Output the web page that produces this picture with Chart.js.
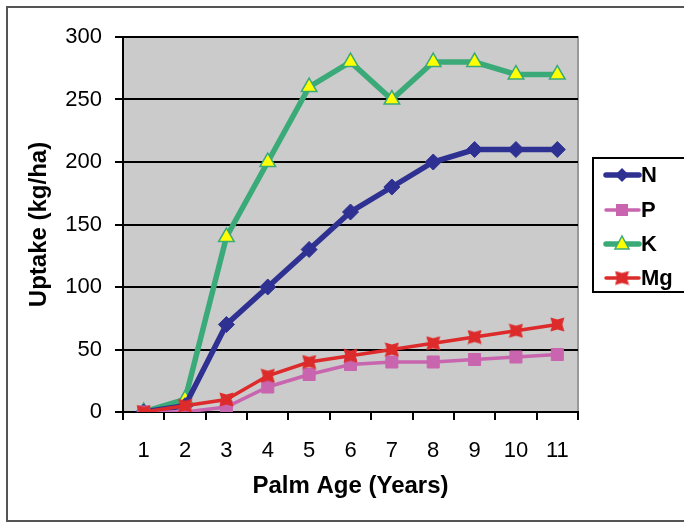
<!DOCTYPE html>
<html>
<head>
<meta charset="utf-8">
<script src="https://cdn.jsdelivr.net/npm/chart.js@4/dist/chart.umd.min.js"></script>
<style>
  html, body { margin: 0; padding: 0; background: #ffffff; }
  #wrap { width: 684px; height: 524px; position: relative; }
</style>
</head>
<body>
<div id="wrap"><canvas id="c" width="684" height="524"></canvas></div>
<script>
// Nutrient uptake by oil palm with age
const ages = ['1', '2', '3', '4', '5', '6', '7', '8', '9', '10', '11'];
const uptakeN  = [0, 5, 70, 100, 130, 160, 180, 200, 210, 210, 210];
const uptakeP  = [0, 0, 4, 20, 30, 38, 40, 40, 42, 44, 46];
const uptakeK  = [0, 10, 140, 200, 260, 280, 250, 280, 280, 270, 270];
const uptakeMg = [0, 5, 10, 29, 40, 45, 50, 55, 60, 65, 70];
const seriesNames = ['N', 'P', 'K', 'Mg'];

const FONT = '"Liberation Sans", Arial, Helvetica, sans-serif';
const colN = '#2E3192', colP = '#C964AE', colK = '#3AAA78', colMg = '#DD2A2A';

// Mg marker: square with pinched sides
function makeMgMarker() {
  const s = 15, c = document.createElement('canvas');
  c.width = s; c.height = s;
  const g = c.getContext('2d');
  g.fillStyle = colMg;
  g.beginPath();
  g.moveTo(0.5, 0.5); g.lineTo(7.5, 2.5); g.lineTo(14.5, 0.5);
  g.lineTo(12.5, 7.5); g.lineTo(14.5, 14.5); g.lineTo(7.5, 12.5);
  g.lineTo(0.5, 14.5); g.lineTo(2.5, 7.5); g.closePath();
  g.fill();
  g.fillRect(3, 3, 9, 9);
  return c;
}
const mgMarker = makeMgMarker();

// Frame, grey plotting area and legend box
const decor = {
  id: 'decor',
  beforeDraw(chart) {
    const {ctx, chartArea: a} = chart;
    ctx.save();
    ctx.fillStyle = '#ffffff';
    ctx.fillRect(0, 0, chart.width, chart.height);
    ctx.strokeStyle = '#555555';
    ctx.lineWidth = 2;
    ctx.strokeRect(7, 7, 720, 514);
    ctx.fillStyle = '#CBCBCB';
    ctx.fillRect(a.left, a.top, a.right - a.left, a.bottom - a.top);
    ctx.strokeStyle = '#999999';
    ctx.lineWidth = 2;
    ctx.beginPath();
    ctx.moveTo(a.left, a.top);
    ctx.lineTo(a.right, a.top);
    ctx.lineTo(a.right, a.bottom);
    ctx.stroke();
    ctx.restore();
  },
  afterDraw(chart) {
    const ctx = chart.ctx;
    ctx.save();
    ctx.fillStyle = '#ffffff';
    ctx.fillRect(592, 157, 120, 135);
    ctx.strokeStyle = '#000000';
    ctx.lineWidth = 2;
    ctx.strokeRect(593, 158, 120, 134);
    const rows = [175, 210, 244, 278];
    chart.data.datasets.forEach((ds, i) => {
      const y = rows[i];
      ctx.strokeStyle = ds.borderColor;
      ctx.lineWidth = ds.borderWidth;
      ctx.lineCap = 'round';
      ctx.beginPath();
      ctx.moveTo(606, y);
      ctx.lineTo(639, y);
      ctx.stroke();
      const cx = 622;
      ctx.fillStyle = ds.pointBackgroundColor;
      ctx.strokeStyle = ds.pointBorderColor;
      ctx.lineWidth = ds.pointBorderWidth;
      ctx.beginPath();
      if (ds.label === 'N') {
        ctx.moveTo(cx, y - 7); ctx.lineTo(cx + 7, y); ctx.lineTo(cx, y + 7); ctx.lineTo(cx - 7, y);
        ctx.closePath(); ctx.fill();
      } else if (ds.label === 'P') {
        ctx.rect(cx - 6, y - 6, 12, 12); ctx.fill();
      } else if (ds.label === 'K') {
        ctx.moveTo(cx, y - 8); ctx.lineTo(cx + 7, y + 5); ctx.lineTo(cx - 7, y + 5);
        ctx.closePath(); ctx.fill(); ctx.stroke();
      } else {
        ctx.drawImage(mgMarker, cx - 7.5, y - 7.5);
      }
      ctx.fillStyle = '#000000';
      ctx.font = 'bold 22px ' + FONT;
      ctx.textBaseline = 'middle';
      ctx.textAlign = 'left';
      ctx.fillText(ds.label, 641, y + 1);
    });
    ctx.restore();
  }
};

new Chart(document.getElementById('c'), {
  type: 'line',
  data: {
    labels: ages,
    datasets: [
      { label: seriesNames[0], data: uptakeN, borderColor: colN, borderWidth: 5.5,
        pointStyle: 'rectRot', pointRadius: 8, pointBackgroundColor: colN,
        pointBorderColor: colN, pointBorderWidth: 1, order: 3 },
      { label: seriesNames[1], data: uptakeP, borderColor: colP, borderWidth: 3.5,
        pointStyle: 'rect', pointRadius: 8.5, pointBackgroundColor: colP,
        pointBorderColor: colP, pointBorderWidth: 1, order: 2 },
      { label: seriesNames[2], data: uptakeK, borderColor: colK, borderWidth: 5.5,
        pointStyle: 'triangle', pointRadius: 9, pointBackgroundColor: '#FFFF00',
        pointBorderColor: colK, pointBorderWidth: 1.5, order: 4 },
      { label: seriesNames[3], data: uptakeMg, borderColor: colMg, borderWidth: 3.5,
        pointStyle: mgMarker, pointRadius: 7, pointBackgroundColor: colMg,
        pointBorderColor: colMg, pointBorderWidth: 1, order: 1 }
    ]
  },
  options: {
    responsive: false,
    animation: false,
    devicePixelRatio: 1,
    layout: { padding: { top: 37, right: 106, left: 0, bottom: 0 } },
    plugins: { legend: { display: false }, tooltip: { enabled: false } },
    elements: { line: { tension: 0 } },
    scales: {
      x: {
        offset: true,
        afterFit(s) { s.height = 112; },
        grid: { display: true, offset: true, drawOnChartArea: false, drawTicks: true,
                tickLength: 8, color: '#000000', lineWidth: 2 },
        border: { display: true, color: '#000000', width: 2 },
        ticks: { color: '#000000', padding: 18, font: { family: FONT, size: 22 }, maxRotation: 0 },
        title: { display: true, text: 'Palm Age (Years)', color: '#000000',
                 font: { family: FONT, size: 24, weight: 'bold' }, padding: { top: 0, bottom: 23 } }
      },
      y: {
        min: 0, max: 300,
        afterFit(s) { s.width = 123; },
        grid: { display: true, drawOnChartArea: true, drawTicks: true, tickLength: 8,
                color: '#000000', lineWidth: 2 },
        border: { display: true, color: '#000000', width: 2 },
        ticks: { stepSize: 50, color: '#000000', padding: 13, font: { family: FONT, size: 22 } },
        title: { display: true, text: 'Uptake (kg/ha)', color: '#000000',
                 font: { family: FONT, size: 24, weight: 'bold' }, padding: { top: 25, bottom: 0 } }
      }
    }
  },
  plugins: [decor]
});
</script>
</body>
</html>
